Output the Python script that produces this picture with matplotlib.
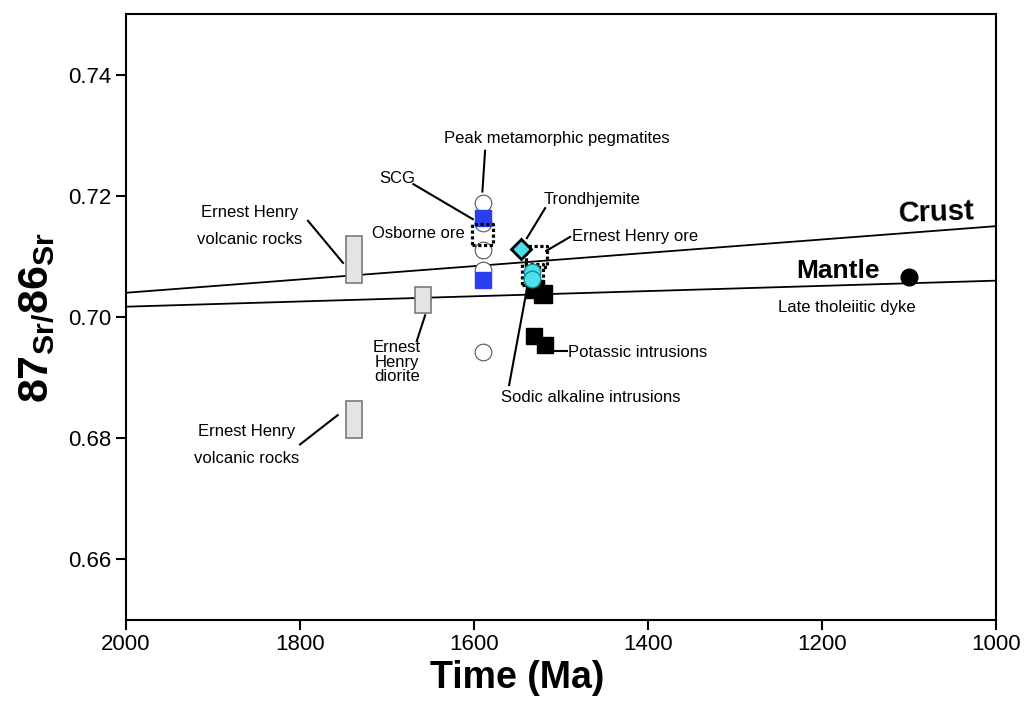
"""Sr isotope evolution plot: 87Sr/86Sr versus time (Ma)."""

import matplotlib

matplotlib.use("Agg")
import matplotlib.pyplot as plt
from matplotlib.patches import Rectangle

plt.rcParams["font.family"] = ["Liberation Sans", "DejaVu Sans"]
plt.rcParams["mathtext.fontset"] = "custom"
plt.rcParams["mathtext.rm"] = "Liberation Sans"
plt.rcParams["mathtext.bf"] = "Liberation Sans:bold"

# reference lines (time, ratio at each end)
line_time = [2000, 1000]
crust_sr = [0.7040, 0.7150]
mantle_sr = [0.7017, 0.7060]

# peak metamorphic pegmatites / SCG (open circles)
peg_time = [1590, 1590, 1590, 1590, 1590]
peg_sr = [0.7188, 0.7155, 0.7111, 0.7078, 0.6942]

# SCG (blue squares)
scg_time = [1590, 1590]
scg_sr = [0.7164, 0.7061]

# Osborne ore (dotted squares)
osb_time = [1590]
osb_sr = [0.7136]

# Ernest Henry ore (dotted squares)
eho_time = [1528, 1533]
eho_sr = [0.7100, 0.7070]

# Trondhjemite (diamond)
trond_time = [1546]
trond_sr = [0.7112]

# Sodic alkaline intrusions (cyan circles)
sodic_time = [1533, 1533]
sodic_sr = [0.7074, 0.7063]

# black squares
blk_time = [1530, 1521]
blk_sr = [0.7046, 0.7038]
potassic_time = [1531, 1518]
potassic_sr = [0.6969, 0.6954]

# late tholeiitic dyke
dyke_time = [1100]
dyke_sr = [0.7066]

# Ernest Henry volcanic rocks / diorite ranges (grey bars)
bar_time = [1738, 1659, 1738]
bar_lo = [0.7056, 0.7006, 0.6800]
bar_hi = [0.7133, 0.7050, 0.6862]
bar_width = 18

# labels: text, x, y, ha
labels = [
    ("Peak metamorphic pegmatites", 1504.6, 0.72942, "center"),
    ("SCG", 1688.5, 0.72281, "center"),
    ("Osborne ore", 1664.4, 0.71372, "center"),
    ("Ernest Henry\n\nvolcanic rocks", 1857.5, 0.71504, "center"),
    ("Ernest\nHenry\ndiorite", 1688.5, 0.69256, "center"),
    ("Ernest Henry\n\nvolcanic rocks", 1861.0, 0.67884, "center"),
    ("Trondhjemite", 1464.4, 0.71934, "center"),
    ("Ernest Henry ore", 1488.0, 0.71322, "left"),
    ("Late tholeiitic dyke", 1171.3, 0.70149, "center"),
    ("Potassic intrusions", 1492.0, 0.69421, "left"),
    ("Sodic alkaline intrusions", 1465.5, 0.68678, "center"),
]

# leader lines: (x0, y0, x1, y1)
leaders = [
    (1587.4, 0.72744, 1590.5, 0.72071),
    (1669.8, 0.72193, 1601.5, 0.71615),
    (1790.8, 0.71587, 1750.6, 0.70893),
    (1665.9, 0.69603, 1656.3, 0.70028),
    (1800.0, 0.67896, 1756.7, 0.68380),
    (1518.4, 0.71797, 1539.4, 0.71301),
    (1489.7, 0.71322, 1517.2, 0.71091),
    (1510.3, 0.69438, 1493.1, 0.69438),
    (1559.8, 0.68876, 1539.1, 0.70479),
]


def main() -> None:
    fig = plt.figure(figsize=(10.24, 7.06), dpi=100)
    ax = fig.add_axes([0.123, 0.122, 0.850, 0.858])

    ax.plot(line_time, crust_sr, color="black", lw=1.3, zorder=2)
    ax.plot(line_time, mantle_sr, color="black", lw=1.3, zorder=2)

    for t, lo, hi in zip(bar_time, bar_lo, bar_hi):
        ax.add_patch(Rectangle((t - bar_width / 2, lo), bar_width, hi - lo,
                               facecolor="#e4e4e4", edgecolor="#7a7a7a", lw=1.2, zorder=3))

    for x0, y0, x1, y1 in leaders:
        ax.plot([x0, x1], [y0, y1], color="black", lw=1.5, zorder=2)

    ax.plot(peg_time, peg_sr, "o", ms=12, mfc="white", mec="#555555", mew=0.8, zorder=4)
    ax.plot(scg_time, scg_sr, "s", ms=11, mfc="#2a3ff0", mec="#2a3ff0", zorder=5)
    # dotted squares: scatter so the marker edge can take a line style
    ax.scatter(osb_time, osb_sr, marker="s", s=230, facecolors="none", edgecolors="black",
               linewidths=2.3, linestyles=(0, (1.0, 0.8)), zorder=6)
    ax.scatter(eho_time, eho_sr, marker="s", s=230, facecolors="none", edgecolors="black",
               linewidths=2.3, linestyles=(0, (1.0, 0.8)), zorder=6)
    ax.plot(blk_time, blk_sr, "s", ms=13, color="black", zorder=5)
    ax.plot(potassic_time, potassic_sr, "s", ms=11, color="black", zorder=5)
    ax.plot(sodic_time, sodic_sr, "o", ms=12, mfc="#4ee0ea", mec="#1a8a95", mew=1.0, zorder=7)
    ax.plot(trond_time, trond_sr, "D", ms=10, mfc="#4ee0ea", mec="black", mew=2.0, zorder=7)
    ax.plot(dyke_time, dyke_sr, "o", ms=12, color="black", zorder=5)

    for text, x, y, ha in labels:
        ls = 0.95 if "diorite" in text else 0.9
        ax.text(x, y, text, ha=ha, va="center", fontsize=12, linespacing=ls, zorder=8)

    ax.text(1069, 0.71719, "Crust", ha="center", va="center", fontsize=21,
            fontweight="bold", rotation=2)
    ax.text(1181.6, 0.70760, "Mantle", ha="center", va="center", fontsize=19,
            fontweight="bold")

    ax.set_xlim(2000, 1000)
    ax.set_ylim(0.65, 0.75)
    ax.set_xticks([2000, 1800, 1600, 1400, 1200, 1000])
    ax.set_yticks([0.66, 0.68, 0.70, 0.72, 0.74])
    ax.set_yticklabels([f"{v:.2f}" for v in [0.66, 0.68, 0.70, 0.72, 0.74]])
    ax.tick_params(direction="out", length=7, width=1.5, labelsize=16)
    for sp in ax.spines.values():
        sp.set_linewidth(1.5)

    ax.set_xlabel("Time (Ma)", fontsize=27, fontweight="bold")
    ax.xaxis.set_label_coords(0.45, -0.066, transform=ax.transAxes)
    ax.xaxis.label.set_verticalalignment("top")
    ax.set_ylabel(r"87$\mathbf{_{Sr/}}$86$\mathbf{_{Sr}}$", fontsize=31,
                  fontweight="bold", labelpad=8)

    fig.savefig("out.png", dpi=100)
    plt.close(fig)


if __name__ == "__main__":
    main()
